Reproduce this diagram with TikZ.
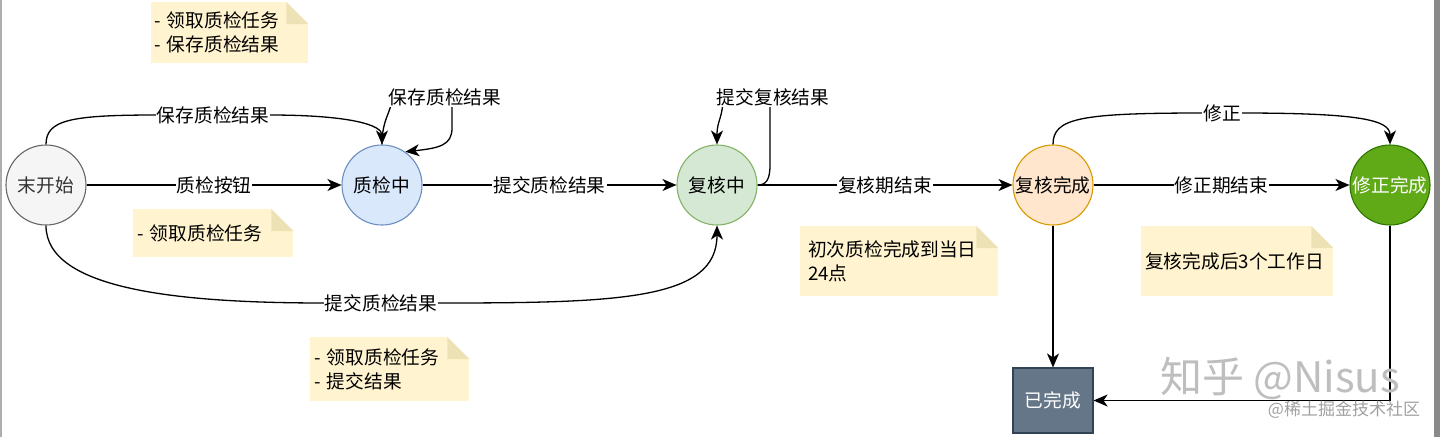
\documentclass[tikz,border=0pt]{standalone}
\usepackage{fontspec}
\setmainfont{Noto Sans CJK SC}
\usetikzlibrary{arrows.meta}
\definecolor{idlefill}{HTML}{F5F5F5}
\definecolor{idleline}{HTML}{666666}
\definecolor{checkfill}{HTML}{DAE8FC}
\definecolor{checkline}{HTML}{6C8EBF}
\definecolor{reviewfill}{HTML}{D5E8D4}
\definecolor{reviewline}{HTML}{82B366}
\definecolor{donefill}{HTML}{FFE6CC}
\definecolor{doneline}{HTML}{D79B00}
\definecolor{fixfill}{HTML}{60A917}
\definecolor{fixline}{HTML}{2D7600}
\definecolor{endfill}{HTML}{647687}
\definecolor{endline}{HTML}{314354}
\definecolor{notefill}{HTML}{FFF4CF}
\definecolor{notedark}{HTML}{EDE2B5}
\definecolor{inkgray}{HTML}{333333}
\definecolor{markgray}{HTML}{BEBEBE}
\definecolor{sitegray}{HTML}{A0A0A0}
\definecolor{edgegray}{HTML}{8A8A8A}
\newcommand{\foldcorner}[1]{%
	\fill[white] (#1.north east) ++(-22,0) -- ++(22,0) -- ++(0,22) -- cycle;
	\fill[notedark] (#1.north east) ++(-22,0) -- ++(0,22) -- ++(22,0) -- cycle;}

\begin{document}
\begin{tikzpicture}[x=1pt, y=-1pt,
	state/.style={circle, minimum size=80pt, inner sep=0pt, line width=1.1pt, font=\fontsize{18.7}{20}\selectfont},
	note/.style={fill=notefill, inner ysep=0pt, align=left, anchor=north west, font=\fontsize{18.7}{24}\selectfont},
	elab/.style={fill=white, inner sep=1pt, font=\fontsize{18.7}{20}\selectfont},
	flow/.style={line width=1.3pt, -{Stealth[length=14pt,width=12pt,inset=4pt]}}]
	\useasboundingbox (0,0) rectangle (1440,437);
	\draw[line width=1.5pt, edgegray!70] (1,0) -- (1,437);
	\fill[edgegray] (1434,0) rectangle (1440,437);

	% states
	\node[state, fill=idlefill, draw=idleline, text=inkgray] (wks) at (46,185) {末开始};
	\node[state, fill=checkfill, draw=checkline] (zjz) at (382,185) {质检中};
	\node[state, fill=reviewfill, draw=reviewline] (fhz) at (717,185) {复核中};
	\node[state, fill=donefill, draw=doneline] (fhwc) at (1053,185) {复核完成};
	\node[state, fill=fixfill, draw=fixline, text=white] (xzwc) at (1390,185) {修正完成};
	\node[fill=endfill, draw=endline, line width=1.1pt, minimum width=80pt, minimum height=65pt,
		text=white, font=\fontsize{18.7}{20}\selectfont] (ywc) at (1053,400.5) {已完成};

	% notes
	\node[note, text width=151pt, minimum height=61pt, inner xsep=3pt] (nt1) at (151,2) {- 领取质检任务\\- 保存质检结果};
	\node[note, text width=152pt, minimum height=48pt, inner xsep=4pt] (nt2) at (133,209) {- 领取质检任务};
	\node[note, text width=151pt, minimum height=64pt, inner xsep=4pt] (nt3) at (310,337) {- 领取质检任务\\- 提交结果};
	\node[note, text width=182pt, minimum height=70pt, inner xsep=8pt] (nt4) at (800,226) {初次质检完成到当日\\24点};
	\node[note, text width=184pt, minimum height=70pt, inner xsep=4pt] (nt5) at (1141,226) {复核完成后3个工作日};
	\foldcorner{nt1}
	\foldcorner{nt2}
	\foldcorner{nt3}
	\foldcorner{nt4}
	\foldcorner{nt5}

	% straight transitions
	\draw[flow] (wks) -- node[elab] {质检按钮} (zjz);
	\draw[flow] (zjz) -- node[elab] {提交质检结果} (fhz);
	\draw[flow] (fhz) -- node[elab] {复核期结束} (fhwc);
	\draw[flow] (fhwc) -- node[elab] {修正期结束} (xzwc);
	\draw[flow] (fhwc) -- (ywc);
	\draw[flow] (xzwc.south) |- (ywc.east);

	% curved transitions
	\draw[flow] (wks.north) .. controls (46,120) and (70,115) .. (157,115)
		-- (269,115) .. controls (350,115) and (382,125) .. (zjz.north);
	\node[elab] (lb1) at (213,115) {保存质检结果};
	\draw[flow] (wks.south) .. controls (46,290) and (180,303) .. (325,303)
		-- (438,303) .. controls (620,303) and (717,300) .. (fhz.south);
	\node[elab] (lb2) at (381,303) {提交质检结果};
	\draw[flow] (fhwc.north) .. controls (1053,118) and (1080,113) .. (1204,113)
		-- (1240,113) .. controls (1360,113) and (1390,120) .. (xzwc.north);
	\node[elab] (lb3) at (1222,113) {修正};

	% self loops
	\draw[flow] (zjz.north) .. controls (382,118) and (392,112) .. (392,97)
		-- (452,97) -- (452,128) .. controls (452,145) and (440,148) .. (zjz.55);
	\node[elab] (lb4) at (445,97) {保存质检结果};
	\draw[flow] (fhz.east) .. controls (766,185) and (770,180) .. (770,165)
		-- (770,97) -- (723,97) .. controls (723,118) and (717,120) .. (fhz.north);
	\node[elab] (lb5) at (773,97) {提交复核结果};

	% watermark
	\node[text=markgray, font=\fontsize{42}{44}\selectfont, inner sep=0pt] (mark) at (1280,378) {知乎 @Nisus};
	\node[text=sitegray, font=\fontsize{17}{19}\selectfont, inner sep=0pt] (site) at (1344,410) {@稀土掘金技术社区};
\end{tikzpicture}
\end{document}
